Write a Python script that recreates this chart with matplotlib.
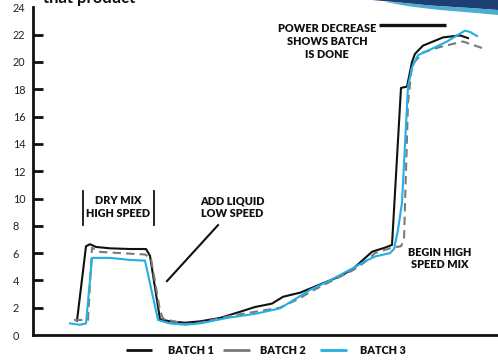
import matplotlib
matplotlib.use('Agg')
import matplotlib.pyplot as plt
from matplotlib.patches import Polygon
from matplotlib.lines import Line2D

plt.rcParams['font.family'] = ['Lato', 'DejaVu Sans']

# time (arbitrary units) and mixer power readings
b1_t = [4.4, 5.3, 5.7, 6.3, 7.7, 9.7, 11.3, 11.7, 12.7, 13.7, 15.2, 16.7, 18.7, 20.7, 22.2, 23.9,
        25.0, 26.7, 28.7, 30.7, 32.0, 33.0, 33.9, 35.2, 35.9, 36.8, 37.4, 37.9, 38.2, 39.0, 41.0,
        42.7, 43.5]
b1_v = [1.05, 6.5, 6.65, 6.45, 6.35, 6.3, 6.3, 5.8, 1.15, 1.0, 0.9, 1.0, 1.25, 1.7, 2.05, 2.3,
        2.8, 3.1, 3.7, 4.3, 4.85, 5.5, 6.1, 6.4, 6.6, 18.1, 18.2, 20.0, 20.6, 21.2, 21.8,
        21.95, 21.75]

b2_t = [4.1, 5.5, 5.9, 6.5, 8.7, 11.2, 11.8, 12.7, 13.0, 15.2, 16.7, 19.7, 22.2, 24.7, 26.7,
        27.7, 29.7, 32.0, 33.2, 34.2, 35.9, 36.8, 37.1, 37.5, 37.9, 39.0, 40.7, 43.0, 45.0]
b2_v = [1.1, 1.1, 6.4, 6.1, 6.0, 5.9, 5.6, 1.8, 1.2, 0.8, 0.9, 1.4, 1.7, 2.0, 2.7,
        3.15, 3.9, 4.75, 5.35, 6.0, 6.4, 6.5, 7.0, 17.0, 19.8, 20.7, 21.1, 21.5, 21.0]

b3_t = [3.7, 4.7, 5.3, 5.9, 7.7, 9.7, 11.2, 12.5, 13.7, 15.2, 16.7, 19.4, 22.2, 24.7, 27.7,
        29.7, 32.0, 33.2, 34.2, 35.7, 36.1, 36.5, 36.9, 37.5, 37.9, 38.5, 39.7, 41.4, 43.2,
        43.7, 44.4]
b3_v = [0.85, 0.75, 0.85, 5.65, 5.65, 5.5, 5.45, 1.1, 0.85, 0.75, 0.85, 1.25, 1.55, 1.95, 3.3,
        4.0, 4.9, 5.4, 5.75, 6.0, 6.3, 7.7, 9.7, 18.2, 19.6, 20.5, 20.9, 21.5, 22.3,
        22.2, 21.9]

series_labels = ['BATCH 1', 'BATCH 2', 'BATCH 3']
y_ticks = [0, 2, 4, 6, 8, 10, 12, 14, 16, 18, 20, 22, 24]

W, H = 498, 360
fig = plt.figure(figsize=(W / 100, H / 100), dpi=100)
ax = fig.add_axes([33 / W, 1 - 335 / H, (W - 33) / W, (335 - 7.4) / H])

c1, c2, c3 = '#111111', '#7a7a7a', '#22aee6'
ax.plot(b1_t, b1_v, color=c1, lw=1.5, solid_joinstyle='round')
ax.plot(b2_t, b2_v, color=c2, lw=1.5, dashes=(4, 2.5))
ax.plot(b3_t, b3_v, color=c3, lw=1.5, solid_joinstyle='round')

ax.set_xlim(0, 46.5)
ax.set_ylim(0, 24)
for s in ['top', 'right']:
    ax.spines[s].set_visible(False)
for s in ['left', 'bottom']:
    ax.spines[s].set_linewidth(2.0)
    ax.spines[s].set_color('#111111')
ax.set_xticks([])
ax.set_yticks(y_ticks)
ax.set_yticklabels([str(v) for v in y_ticks], ha='left')
ax.tick_params(axis='y', direction='in', length=7.5, width=2.0, color='#111111',
               pad=14.5, labelsize=7.8, labelcolor='#222222')
# hide ticks at 0 and 24 (coincide with axes)
ticks = ax.yaxis.get_major_ticks()
ticks[0].tick1line.set_visible(False)
ticks[-1].tick1line.set_visible(False)

bold = dict(fontweight='heavy', fontsize=7.8, color='#111111', ha='center', va='center',
            linespacing=1.2)

# annotations
ax.text(29.4, 21.5, 'POWER DECREASE\nSHOWS BATCH\nIS DONE', **bold)
ax.plot([34.6, 41.3], [22.7, 22.7], color='#111111', lw=2.4, solid_capstyle='butt')

ax.text(8.55, 9.35, 'DRY MIX\nHIGH SPEED', **bold)
ax.plot([5.0, 5.0], [8.05, 10.55], color='#111111', lw=1.3)
ax.plot([12.1, 12.1], [8.05, 10.55], color='#111111', lw=1.3)

ax.text(19.9, 9.35, 'ADD LIQUID\nLOW SPEED', **bold)
ax.plot([18.5, 13.4], [8.05, 3.95], color='#111111', lw=1.5)

ax.text(40.7, 5.6, 'BEGIN HIGH\nSPEED MIX', **bold)

# legend drawn manually (solid samples)
def fp(x, y):
    return (x / W, 1 - y / H)

leg_y = 350
leg_items = [(126, 152, 168, c1), (223, 250, 260, c2), (320, 347, 360, c3)]
for (xa, xb, xt, col), lab in zip(leg_items, series_labels):
    (fx0, fy), (fx1, _) = fp(xa, leg_y), fp(xb, leg_y)
    fig.add_artist(Line2D([fx0, fx1], [fy, fy], transform=fig.transFigure, color=col,
                          lw=2, linestyle='-', solid_capstyle='butt'))
    fig.text(xt / W, fy, lab, fontweight='heavy', fontsize=7.8, color='#111111',
             ha='left', va='center')

# clipped heading text from page above
fig.text(43 / W, 1 - 3 / H, 'that product', fontsize=12, fontweight='bold', color='#111111',
         va='baseline', ha='left')

# decorative swoosh at the top right
navy = Polygon([fp(372, 0), fp(498, 0), fp(498, 10), fp(470, 8), fp(430, 5.5), fp(400, 2.5)],
               closed=True, transform=fig.transFigure, facecolor='#1d3f73', edgecolor='none')
teal = Polygon([fp(400, 2.5), fp(430, 5.5), fp(470, 8), fp(498, 10), fp(498, 15), fp(470, 12.5),
                fp(440, 10), fp(410, 6.5), fp(385, 2)],
               closed=True, transform=fig.transFigure, facecolor='#2a9fc9', edgecolor='none',
               alpha=0.85)
fig.patches.extend([navy, teal])

fig.savefig('out.png', dpi=100)
